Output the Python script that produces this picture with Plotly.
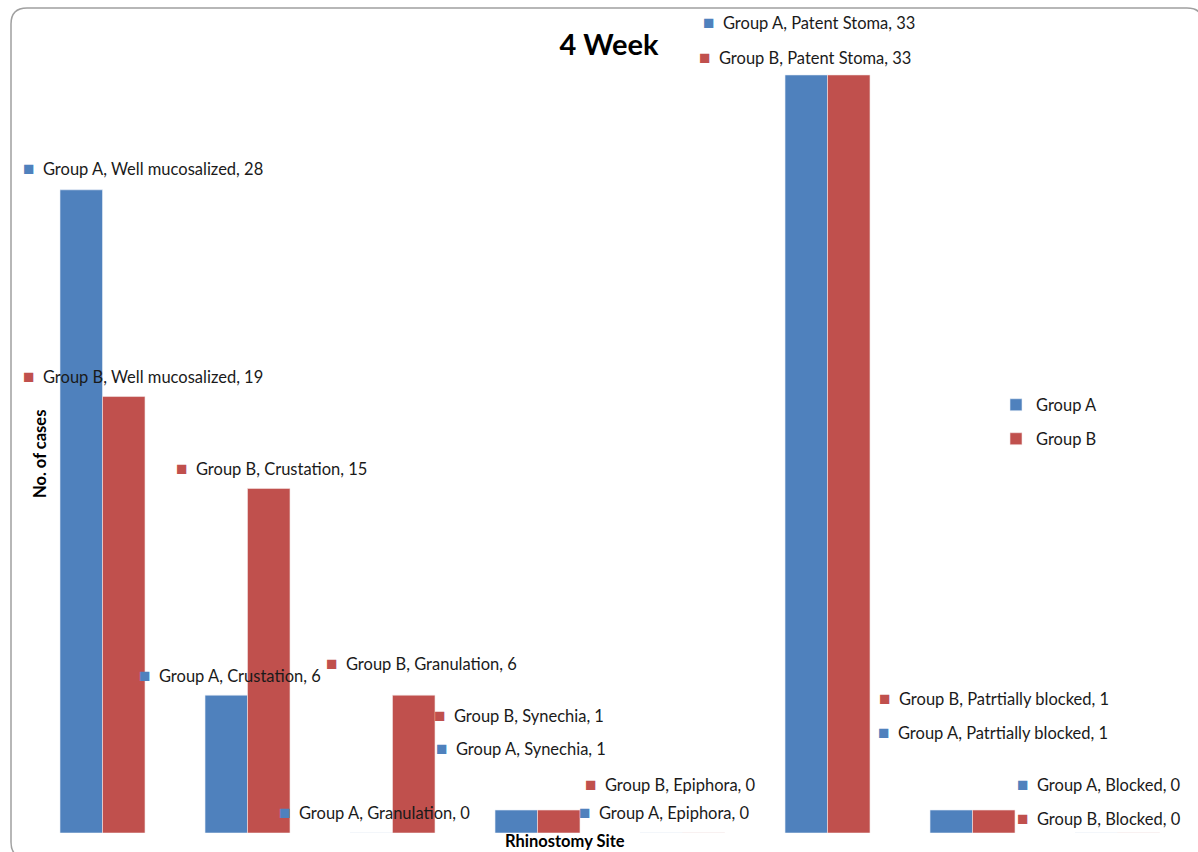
import plotly.graph_objects as go

# Rhinostomy site findings at the 4 week follow-up
categories = ["Well mucosalized", "Crustation", "Granulation", "Synechia",
              "Epiphora", "Patent Stoma", "Patrtially blocked", "Blocked"]
group_a = [28, 6, 0, 1, 0, 33, 1, 0]
group_b = [19, 15, 6, 1, 0, 33, 1, 0]
series_names = ["Group A", "Group B"]

COLOR_A = "#4F81BD"
COLOR_B = "#C0504D"
FONT = "Lato"
TEXT_SIZE = 16.5

# canvas and plot-area geometry (pixels)
WIDTH, HEIGHT = 1198, 852
M_L, M_R, M_T, M_B = 30, 8, 29, 19
PW = WIDTH - M_L - M_R
PH = HEIGHT - M_T - M_B


def px(x):
    return (x - M_L) / PW


def py(y):
    return (HEIGHT - M_B - y) / PH


# where each data label sits: (series index, category index, left px, centre px)
label_places = [
    (0, 0, 21, 168), (1, 0, 21, 375),
    (1, 1, 174, 467), (0, 1, 137, 674),
    (1, 2, 324, 662), (0, 2, 277, 811),
    (1, 3, 432, 714), (0, 3, 434, 747),
    (1, 4, 583, 783), (0, 4, 577, 811),
    (0, 5, 701, 21), (1, 5, 697, 56),
    (1, 6, 877, 697), (0, 6, 876, 731),
    (0, 7, 1015, 783), (1, 7, 1015, 817),
]

values = [group_a, group_b]
colors = [COLOR_A, COLOR_B]

fig = go.Figure()
fig.add_trace(go.Bar(x=categories, y=group_a, name=series_names[0],
                     marker=dict(color=COLOR_A, line=dict(color="#e8eef7", width=0.6)),
                     legend="legend", showlegend=True))
fig.add_trace(go.Bar(x=categories, y=group_b, name=series_names[1],
                     marker=dict(color=COLOR_B, line=dict(color="#f3e6e6", width=0.6)),
                     legend="legend2", showlegend=True))

annotations = []
for s, c, lx, ly in label_places:
    text = (f'<span style="color:{colors[s]};font-size:19px">■</span>'
            f'&nbsp;&nbsp;{series_names[s]}, {categories[c]}, {values[s][c]}')
    annotations.append(dict(
        x=px(lx), y=py(ly), xref="paper", yref="paper",
        xanchor="left", yanchor="middle", showarrow=False,
        text=text, font=dict(family=FONT, size=TEXT_SIZE, color="#1a1a1a"),
    ))

# axis titles
annotations.append(dict(
    x=px(40), y=py(454), xref="paper", yref="paper", showarrow=False,
    xanchor="center", yanchor="middle",
    text="<b>No. of cases</b>", textangle=-90,
    font=dict(family=FONT, size=16.5, color="#000000"),
))
annotations.append(dict(
    x=px(565), y=py(841), xref="paper", yref="paper", showarrow=False,
    xanchor="center", yanchor="middle",
    text="<b>Rhinostomy Site</b>",
    font=dict(family=FONT, size=16.5, color="#000000"),
))

# rounded outer frame of the chart
x0, x1, y0, y1, r = px(11), px(1203), py(8), py(858), 16
rx, ry = r / PW, r / PH
frame = (f"M {x0},{y1 + ry} L {x0},{y0 - ry} "
         f"Q {x0},{y0} {x0 + rx},{y0} L {x1 - rx},{y0} "
         f"Q {x1},{y0} {x1},{y0 - ry} L {x1},{y1 + ry} "
         f"Q {x1},{y1} {x1 - rx},{y1} L {x0 + rx},{y1} "
         f"Q {x0},{y1} {x0},{y1 + ry} Z")

legend_style = dict(xanchor="left", yanchor="middle",
                    font=dict(family=FONT, size=TEXT_SIZE, color="#1a1a1a"),
                    bgcolor="rgba(0,0,0,0)", itemwidth=30)

fig.update_layout(
    width=WIDTH, height=HEIGHT,
    margin=dict(l=M_L, r=M_R, t=M_T, b=M_B, pad=0),
    paper_bgcolor="white", plot_bgcolor="white",
    showlegend=True,
    barmode="group", bargap=0.414, bargroupgap=0,
    title=dict(text="<b>4 Week</b>", x=px(609), y=1 - 45 / HEIGHT,
               xanchor="center", yanchor="middle", xref="paper", yref="container",
               font=dict(family=FONT, size=29, color="#000000")),
    xaxis=dict(showticklabels=False, showgrid=False, zeroline=False,
               showline=False, ticks=""),
    yaxis=dict(range=[0, 35], showticklabels=False, showgrid=False,
               zeroline=False, showline=False, ticks=""),
    legend=dict(x=px(996), y=py(405), **legend_style),
    legend2=dict(x=px(996), y=py(439), **legend_style),
    annotations=annotations,
    shapes=[dict(type="path", path=frame, xref="paper", yref="paper",
                 line=dict(color="#a0a0a0", width=1.5), layer="below")],
)

fig.write_html("out.html")
